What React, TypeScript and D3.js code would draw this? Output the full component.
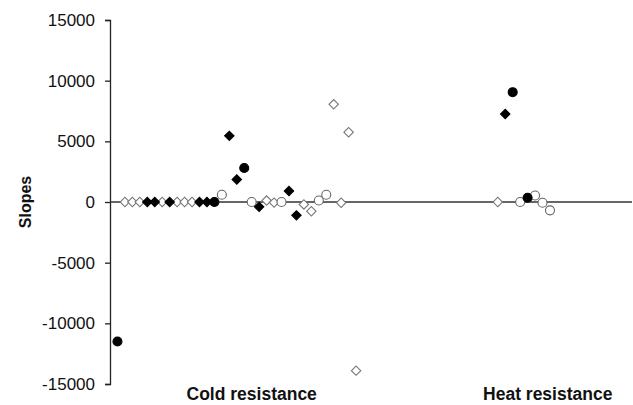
import React, { useRef, useEffect } from "react";
import * as d3 from "d3";

// categories along the x axis (label and its position on the index scale)
const categories = ["Cold resistance", "Heat resistance"];
const categoryAt = [19, 58.7];

// y axis ticks
const yTicks = [-15000, -10000, -5000, 0, 5000, 10000, 15000];

// series: x index and slope value
const filledCircleIdx = [1, 14, 18, 54, 56];
const filledCircleVal = [-11500, 0, 2800, 9050, 350];

const filledDiamondIdx = [5, 6, 8, 12, 13, 16, 17, 20, 24, 25, 53];
const filledDiamondVal = [0, 0, 0, 0, 0, 5450, 1850, -400, 900, -1100, 7250];

const openDiamondIdx = [2, 3, 4, 7, 9, 10, 11, 21, 22, 26, 27, 30, 31, 32, 33, 52];
const openDiamondVal = [0, 0, 0, 0, 0, 0, 0, 120, -50, -200, -760, 8050, -60, 5750, -13900, 0];

const openCircleIdx = [15, 19, 23, 28, 29, 55, 57, 58, 59];
const openCircleVal = [600, 0, 0, 120, 600, 0, 540, -60, -690];

const App = () => {
  const chartRef = useRef<HTMLDivElement>(null);

  useEffect(() => {
    document.body.style.margin = "0";
    const width = 633;
    const height = 405;

    const el = chartRef.current;
    if (!el) return;
    d3.select(el).selectAll("*").remove();

    const svg = d3
      .select(el)
      .append("svg")
      .attr("width", width)
      .attr("height", height)
      .style("display", "block")
      .style("font-family", "'Liberation Sans', Arial, sans-serif");

    const xScale = d3.scaleLinear().domain([0, 70]).range([110, 632]);
    const yScale = d3.scaleLinear().domain([-15000, 15000]).range([384, 20]);

    // y axis
    const yAxis = d3
      .axisLeft(yScale)
      .tickValues(yTicks)
      .tickSize(5)
      .tickPadding(10)
      .tickFormat((d) => String(d));

    const yG = svg.append("g").attr("transform", `translate(110,0)`).call(yAxis);
    yG.select(".domain").attr("stroke", "#222").attr("stroke-width", 1.3);
    yG.selectAll(".tick line").attr("stroke", "#222").attr("stroke-width", 1.3);
    yG.selectAll(".tick text")
      .attr("font-size", 17)
      .attr("fill", "#111")
      .attr("font-family", "'Liberation Sans', Arial, sans-serif");

    // zero line
    svg
      .append("line")
      .attr("x1", xScale(0))
      .attr("x2", xScale(70))
      .attr("y1", yScale(0))
      .attr("y2", yScale(0))
      .attr("stroke", "#333")
      .attr("stroke-width", 1.5);

    // y axis title
    svg
      .append("text")
      .attr("transform", `translate(31,${yScale(0)}) rotate(-90)`)
      .attr("text-anchor", "middle")
      .attr("font-size", 16)
      .attr("font-weight", "bold")
      .attr("fill", "#111")
      .text("Slopes");

    // category labels
    svg
      .selectAll(".cat")
      .data(categories)
      .enter()
      .append("text")
      .attr("class", "cat")
      .attr("x", (d, i) => xScale(categoryAt[i]))
      .attr("y", 400)
      .attr("text-anchor", "middle")
      .attr("font-size", 17.5)
      .attr("font-weight", "bold")
      .attr("fill", "#111")
      .text((d) => d);

    const diamond = d3.symbol().type(d3.symbolSquare).size(44);

    const drawDiamonds = (idx: number[], val: number[], fill: string, stroke: string) => {
      svg
        .append("g")
        .selectAll("path")
        .data(idx.map((d, i) => [d, val[i]]))
        .enter()
        .append("path")
        .attr("d", diamond()!)
        .attr("transform", (d) => `translate(${xScale(d[0])},${yScale(d[1])}) rotate(45)`)
        .attr("fill", fill)
        .attr("stroke", stroke)
        .attr("stroke-width", 1.1);
    };

    const drawCircles = (idx: number[], val: number[], fill: string, stroke: string) => {
      svg
        .append("g")
        .selectAll("circle")
        .data(idx.map((d, i) => [d, val[i]]))
        .enter()
        .append("circle")
        .attr("cx", (d) => xScale(d[0]))
        .attr("cy", (d) => yScale(d[1]))
        .attr("r", 4.5)
        .attr("fill", fill)
        .attr("stroke", stroke)
        .attr("stroke-width", 1.1);
    };

    drawDiamonds(openDiamondIdx, openDiamondVal, "#fff", "#777");
    drawCircles(openCircleIdx, openCircleVal, "#fff", "#666");
    drawDiamonds(filledDiamondIdx, filledDiamondVal, "#000", "#000");
    drawCircles(filledCircleIdx, filledCircleVal, "#000", "#000");
  }, []);

  return <div ref={chartRef}></div>;
};

export default App;
